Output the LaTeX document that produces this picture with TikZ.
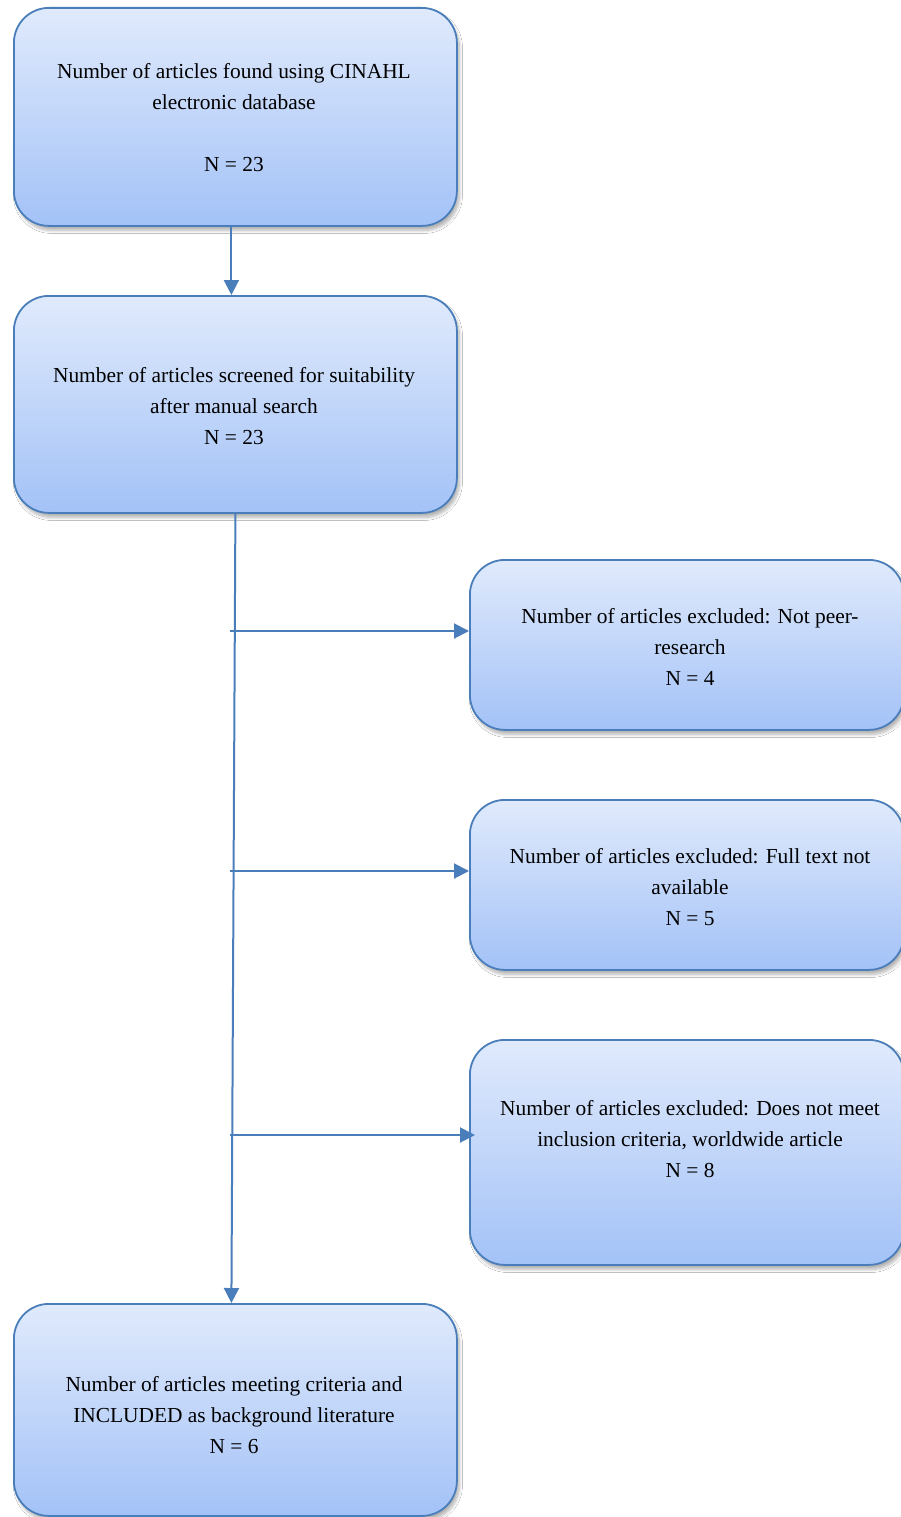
\documentclass[tikz,border=0pt]{standalone}
\usepackage{fontspec}
\setmainfont{Liberation Serif}
\usetikzlibrary{arrows.meta,shadows.blur}
\definecolor{edgec}{HTML}{4A7EBB}
\definecolor{topc}{HTML}{E0EAFC}
\definecolor{botc}{HTML}{A3C2F7}
\tikzset{
  flowbox/.style={draw=edgec, line width=1.8pt, rounded corners=35pt,
    top color=topc, bottom color=botc,
    blur shadow={shadow xshift=2.5pt, shadow yshift=-4.5pt, shadow blur radius=3pt, shadow blur steps=8, shadow opacity=30},
    inner sep=0pt, anchor=north west},
  boxtext/.style={align=center, font=\fontsize{21.4}{31}\selectfont, inner sep=0pt, text=black},
  conn/.style={draw=edgec, line width=2pt, -{Triangle[length=15pt,width=15pt]}},
}
\begin{document}
\begin{tikzpicture}[x=1pt,y=-1pt]
\useasboundingbox (0,0) rectangle (901,1517);
\clip (0,0) rectangle (901,1517);
\fill[white] (0,0) rectangle (901,1517);

\node[flowbox, minimum width=443pt, minimum height=218pt] (b1) at (13,7) {};
\node[flowbox, minimum width=443pt, minimum height=217pt] (b2) at (13,295) {};
\node[flowbox, minimum width=434pt, minimum height=170pt] (b3) at (469,559) {};
\node[flowbox, minimum width=434pt, minimum height=170pt] (b4) at (469,799) {};
\node[flowbox, minimum width=434pt, minimum height=225pt] (b5) at (469,1039) {};
\node[flowbox, minimum width=443pt, minimum height=212pt] (b6) at (13,1303) {};

\node[boxtext] (t1) at (234,118) {Number of articles found using CINAHL\\electronic database\\[31pt]N = 23};
\node[boxtext] (t2) at (234,406) {Number of articles screened for suitability\\after manual search\\N = 23};
\node[boxtext] (t3) at (690,647) {Number of articles excluded: Not peer-\\research\\N = 4};
\node[boxtext] (t4) at (690,887) {Number of articles excluded: Full text not\\available\\N = 5};
\node[boxtext] (t5) at (690,1139) {Number of articles excluded: Does not meet\\inclusion criteria, worldwide article\\N = 8};
\node[boxtext] (t6) at (234,1415) {Number of articles meeting criteria and\\INCLUDED as background literature\\N = 6};

\draw[conn] ([xshift=-4pt]b1.south) -- ([xshift=-4pt]b2.north);
\draw[conn] (b2.south) -- ([xshift=-4pt]b6.north);

\coordinate (j1) at (230,631);
\coordinate (j2) at (230,871);
\coordinate (j3) at (230,1135);
\draw[conn] (j1) -- (j1 -| b3.west);
\draw[conn] (j2) -- (j2 -| b4.west);
\draw[conn] (j3) -- ([xshift=6pt]j3 -| b5.west);
\end{tikzpicture}
\end{document}
